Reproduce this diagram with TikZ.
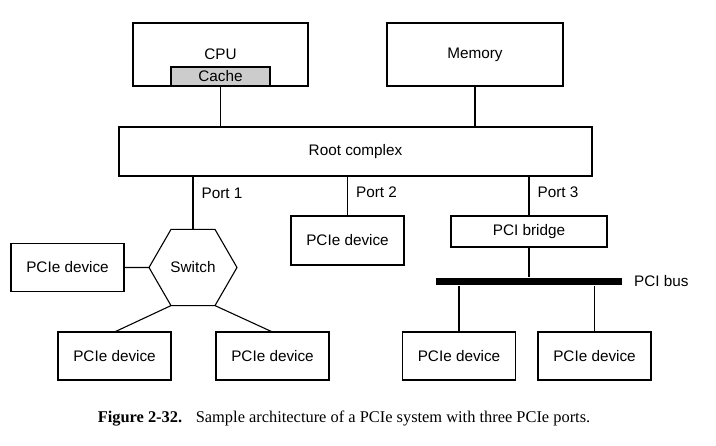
\documentclass[tikz,border=0pt]{standalone}
\usepackage{fontspec}
\setmainfont{Liberation Sans}
\newfontfamily\capfont{Liberation Serif}
\usetikzlibrary{positioning,shapes.geometric}

\begin{document}
\begin{tikzpicture}[x=1pt,y=-1pt,line width=1.1pt,font=\fontsize{15.3}{18}\selectfont,
    box/.style={draw,rectangle,inner sep=0pt,outer sep=0pt},
    dev/.style={box,minimum width=113,minimum height=48},
    lbl/.style={inner sep=0pt,anchor=west}]
    \useasboundingbox (0,0) rectangle (716,446);

            \node[box, minimum width=175, minimum height=63] (1) at (220.5,54.5) {CPU};
            \node[box, fill=black!20, minimum width=99, minimum height=19, anchor=south] (2) at (1.south) {Cache};
            \node[box, minimum width=176, minimum height=63] (3) at (475,54.5) {Memory};
            \node[box, minimum width=473, minimum height=49] (4) at (355.5,151.5) {Root complex};
            \node[draw, regular polygon, regular polygon sides=6, minimum size=88, inner sep=0pt, outer sep=0pt] (5) at (193,267.5) {Switch};
            \node[dev] (6) at (67.5,267.5) {PCIe device};
            \node[dev, minimum height=49] (7) at (347.5,240.5) {PCIe device};
            \node[box, minimum width=156, minimum height=31] (8) at (529,231.5) {PCI bridge};
            \node[fill=black, inner sep=0pt, minimum width=186, minimum height=7] (9) at (529,281.5) {};
            \node[lbl, right=11pt of 9] (10) {PCI bus};
            \node[dev] (11) at (114.5,356) {PCIe device};
            \node[dev] (12) at (272.5,356) {PCIe device};
            \node[dev] (13) at (459,356) {PCIe device};
            \node[dev] (14) at (594.5,356) {PCIe device};
            \node[anchor=base, font=\capfont\fontsize{16.4}{20}\selectfont] (15) at (344,423)
                {\textbf{Figure 2-32.}\hspace{0.5em} Sample architecture of a PCIe system with three PCIe ports.};

            \path[every node/.style={lbl, right=8pt}]
                (2.south) edge (2.south |- 4.north)
                (3.south) edge (3.south |- 4.north)
                (4.south -| 5.north) edge node[pos=0.32]{Port 1} (5.north)
                (4.south -| 7.north) edge node[pos=0.4]{Port 2} (7.north)
                (4.south -| 8.north) edge node[pos=0.4]{Port 3} (8.north)
                (6.east) edge (5.west)
                (5.240) edge (11.north)
                (5.300) edge (12.north)
                (8.south) edge (8.south |- 9.north)
                (9.south -| 13.north) edge (13.north)
                (9.south -| 14.north) edge (14.north)
                ;
        \end{tikzpicture}
\end{document}
